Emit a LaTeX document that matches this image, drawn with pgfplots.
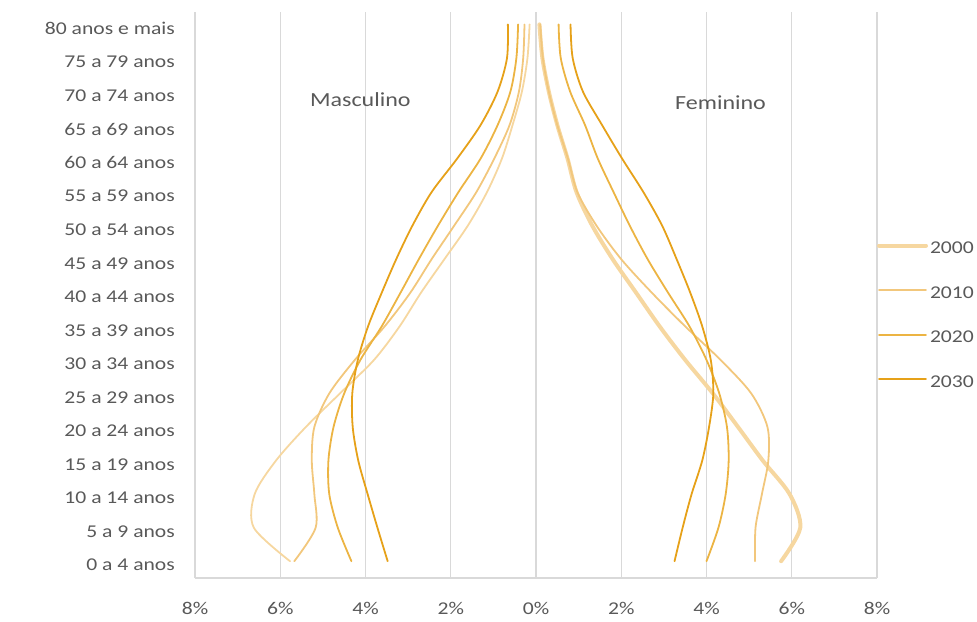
\documentclass[border=0pt]{standalone}
\usepackage{pgfplots}
\pgfplotsset{compat=1.18}
\usepackage{fontspec}
\setmainfont{Carlito}[FakeStretch=1.2]
\definecolor{txt}{HTML}{595959}
\definecolor{gridc}{HTML}{D9D9D9}
\definecolor{zeroc}{HTML}{BFBFBF}
\definecolor{cA}{HTML}{F6D7A0}
\definecolor{cB}{HTML}{F2C77C}
\definecolor{cC}{HTML}{ECB443}
\definecolor{cD}{HTML}{E6A119}
\begin{document}
\begin{tikzpicture}
\useasboundingbox (-195pt,-43pt) rectangle (782pt,578pt);
\begin{axis}[
  at={(0pt,0pt)}, anchor=south west,
  scale only axis, width=682pt, height=566pt,
  xmin=-8, xmax=8, ymin=-0.5, ymax=16.37,
  xtick={-8,-6,-4,-2,0,2,4,6,8},
  xticklabels={8\%,6\%,4\%,2\%,0\%,2\%,4\%,6\%,8\%},
  ytick={0,1,...,16},
  yticklabels={0 a 4 anos,5 a 9 anos,10 a 14 anos,15 a 19 anos,20 a 24 anos,25 a 29 anos,30 a 34 anos,35 a 39 anos,40 a 44 anos,45 a 49 anos,50 a 54 anos,55 a 59 anos,60 a 64 anos,65 a 69 anos,70 a 74 anos,75 a 79 anos,80 anos e mais},
  major tick length=0pt,
  xmajorgrids, major grid style={gridc, line width=1.2pt},
  extra x ticks={0}, extra x tick labels={},
  extra x tick style={grid style={zeroc, line width=2pt}},
  axis x line*=bottom, axis y line*=left,
  x axis line style={-, draw=gridc, line width=1.2pt},
  y axis line style={draw=none},
  ticklabel style={font=\fontsize{18}{20}\selectfont, text=txt},
  yticklabel style={anchor=east, inner sep=0pt, xshift=-20pt, yshift=-4pt},
  xticklabel style={anchor=north, inner sep=0pt, yshift=-24.5pt},
  legend style={at={(1,0.464)}, anchor=west, draw=none, fill=none,
    inner sep=0pt, outer sep=0pt, row sep=31.4pt,
    font=\fontsize{18}{20}\selectfont, text=txt,
    nodes={inner sep=0pt},
    /tikz/every odd column/.style={column sep=2pt}},
  legend cell align=left,
  legend image code/.code={\draw[#1] (0pt,0.3em) -- (47pt,0.3em);},
  every axis plot/.append style={line join=round, line cap=round},
  clip=false,
]
% Female
\addplot[cA, line width=4pt, smooth] coordinates {(0.08,16)(0.15,15)(0.3,14)(0.5,13)(0.74,12)(0.95,11)(1.32,10)(1.8,9)(2.35,8)(2.9,7)(3.5,6)(4.15,5)(4.74,4)(5.32,3)(5.95,2)(6.2,1)(5.75,0)};
\addlegendentry{2000}
\addplot[cB, line width=1.8pt, smooth] coordinates {(0.1,16)(0.16,15)(0.3,14)(0.5,13)(0.75,12)(0.97,11)(1.42,10)(2.0,9)(2.72,8)(3.5,7)(4.33,6)(5.05,5)(5.43,4)(5.45,3)(5.3,2)(5.15,1)(5.14,0)};
\addlegendentry{2010}
\addplot[cC, line width=1.8pt, smooth] coordinates {(0.53,16)(0.58,15)(0.8,14)(1.15,13)(1.45,12)(1.82,11)(2.2,10)(2.62,9)(3.1,8)(3.6,7)(4.0,6)(4.3,5)(4.48,4)(4.52,3)(4.45,2)(4.28,1)(4.0,0)};
\addlegendentry{2020}
\addplot[cD, line width=1.8pt, smooth] coordinates {(0.81,16)(0.86,15)(1.1,14)(1.55,13)(2.02,12)(2.52,11)(2.96,10)(3.3,9)(3.62,8)(3.9,7)(4.1,6)(4.16,5)(4.06,4)(3.9,3)(3.65,2)(3.44,1)(3.25,0)};
\addlegendentry{2030}
% Male
\addplot[cA, line width=1.8pt, smooth, forget plot] coordinates {(-0.15,16)(-0.2,15)(-0.33,14)(-0.55,13)(-0.8,12)(-1.15,11)(-1.6,10)(-2.15,9)(-2.7,8)(-3.2,7)(-3.8,6)(-4.6,5)(-5.4,4)(-6.1,3)(-6.6,2)(-6.62,1)(-5.77,0)};
\addplot[cB, line width=1.8pt, smooth, forget plot] coordinates {(-0.27,16)(-0.3,15)(-0.4,14)(-0.62,13)(-0.98,12)(-1.4,11)(-1.92,10)(-2.45,9)(-2.95,8)(-3.55,7)(-4.25,6)(-4.85,5)(-5.2,4)(-5.26,3)(-5.2,2)(-5.17,1)(-5.67,0)};
\addplot[cC, line width=1.8pt, smooth, forget plot] coordinates {(-0.42,16)(-0.46,15)(-0.6,14)(-0.9,13)(-1.3,12)(-1.82,11)(-2.3,10)(-2.75,9)(-3.18,8)(-3.62,7)(-4.12,6)(-4.5,5)(-4.75,4)(-4.87,3)(-4.85,2)(-4.65,1)(-4.33,0)};
\addplot[cD, line width=1.8pt, smooth, forget plot] coordinates {(-0.66,16)(-0.68,15)(-0.9,14)(-1.3,13)(-1.85,12)(-2.45,11)(-2.9,10)(-3.28,9)(-3.62,8)(-3.94,7)(-4.18,6)(-4.31,5)(-4.3,4)(-4.17,3)(-3.95,2)(-3.72,1)(-3.48,0)};
\node[font=\fontsize{20}{22}\selectfont, text=txt] at (axis cs:-4.12,13.77) {Masculino};
\node[font=\fontsize{20}{22}\selectfont, text=txt] at (axis cs:4.33,13.68) {Feminino};
\end{axis}
\end{tikzpicture}
\end{document}
